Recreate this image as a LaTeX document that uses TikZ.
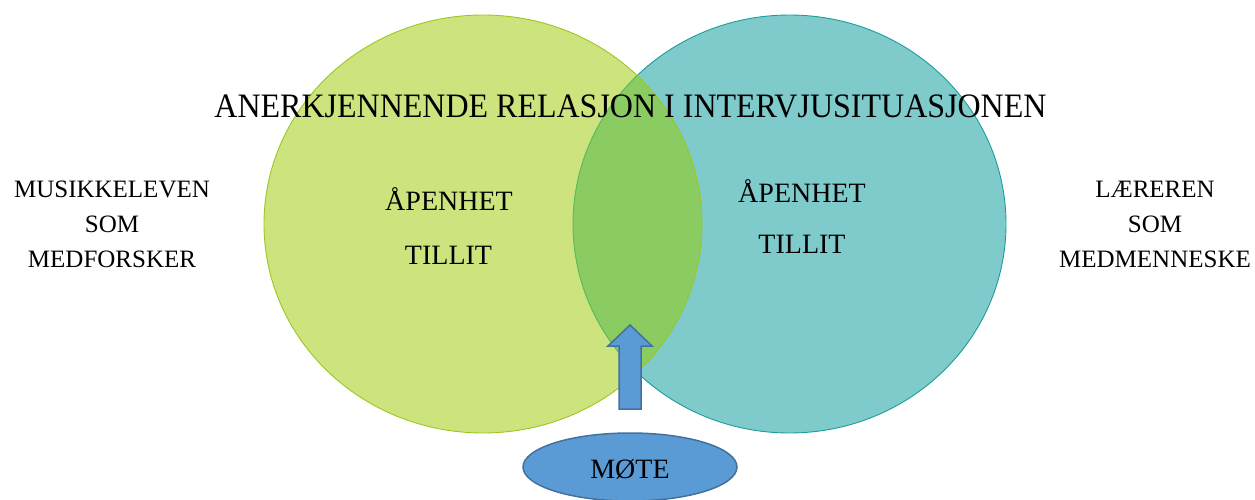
\documentclass[tikz,border=0pt]{standalone}
\usepackage{fontspec}
\usepackage{graphicx}
\setmainfont{Liberation Serif}
\definecolor{leftfill}{HTML}{CDE47E}
\definecolor{leftline}{HTML}{9DC720}
\definecolor{rightfill}{HTML}{7FCACB}
\definecolor{rightline}{HTML}{1A9E9C}
\definecolor{overfill}{HTML}{8ACB62}
\definecolor{overline}{HTML}{5DB85A}
\definecolor{bluefill}{HTML}{5B9BD5}
\definecolor{blueline}{HTML}{41719C}
\tikzset{
  sidelabel/.style={align=center, font=\fontsize{25}{35}\selectfont, inner sep=0pt},
  innerlabel/.style={font=\fontsize{28}{34}\selectfont, inner sep=0pt, anchor=base},
  titlelabel/.style={font=\fontsize{32}{38}\selectfont, inner sep=0pt, anchor=base},
}
\begin{document}
\begin{tikzpicture}[x=1pt,y=-1pt]
\useasboundingbox (0,0) rectangle (1255,500);
\coordinate (lc) at (483,224);
\coordinate (rc) at (789.5,224);
% circles
\fill[leftfill] (lc) ellipse [x radius=219, y radius=209];
\fill[rightfill] (rc) ellipse [x radius=216.5, y radius=209];
\begin{scope}
  \clip (lc) ellipse [x radius=219, y radius=209];
  \fill[overfill] (rc) ellipse [x radius=216.5, y radius=209];
\end{scope}
\begin{scope}
  \clip (lc) ellipse [x radius=219, y radius=209];
  \draw[overline, line width=0.9pt] (rc) ellipse [x radius=216.5, y radius=209];
\end{scope}
\begin{scope}[even odd rule]
  \clip (0,0) rectangle (1255,500) (lc) ellipse [x radius=219, y radius=209];
  \draw[rightline, line width=0.9pt] (rc) ellipse [x radius=216.5, y radius=209];
\end{scope}
\draw[leftline, line width=0.9pt] (lc) ellipse [x radius=219, y radius=209];
% title
\node[titlelabel] (title) at (630.5,118) {\scalebox{1}[1.07]{ANERKJENNENDE RELASJON I INTERVJUSITUASJONEN}};
% side labels
\node[sidelabel, anchor=base] (musikk) at (112,267) {MUSIKKELEVEN\\SOM\\MEDFORSKER};
\node[sidelabel, anchor=base] (laerer) at (1155,267) {LÆREREN\\SOM\\MEDMENNESKE};
% inner labels
\node[innerlabel] (apenL) at (449,210) {ÅPENHET};
\node[innerlabel] (tillitL) at (448.5,264) {TILLIT};
\node[innerlabel] (apenR) at (802,202) {ÅPENHET};
\node[innerlabel] (tillitR) at (802,253) {TILLIT};
% meeting ellipse
\fill[bluefill] (630,467) ellipse [x radius=107, y radius=34];
\draw[blueline, line width=1.5pt] (630,467) ellipse [x radius=107, y radius=34];
\node[font=\fontsize{28}{34}\selectfont, inner sep=0pt, anchor=base] (mote) at (630,478) {MØTE};
% arrow
\coordinate (tip) at (630,325);
\draw[blueline, fill=bluefill, line width=1.5pt, line join=miter]
  (tip) -- (652,346) -- (641,346) -- (641,409) -- (619,409) -- (619,346) -- (608,346) -- cycle;
\end{tikzpicture}
\end{document}
